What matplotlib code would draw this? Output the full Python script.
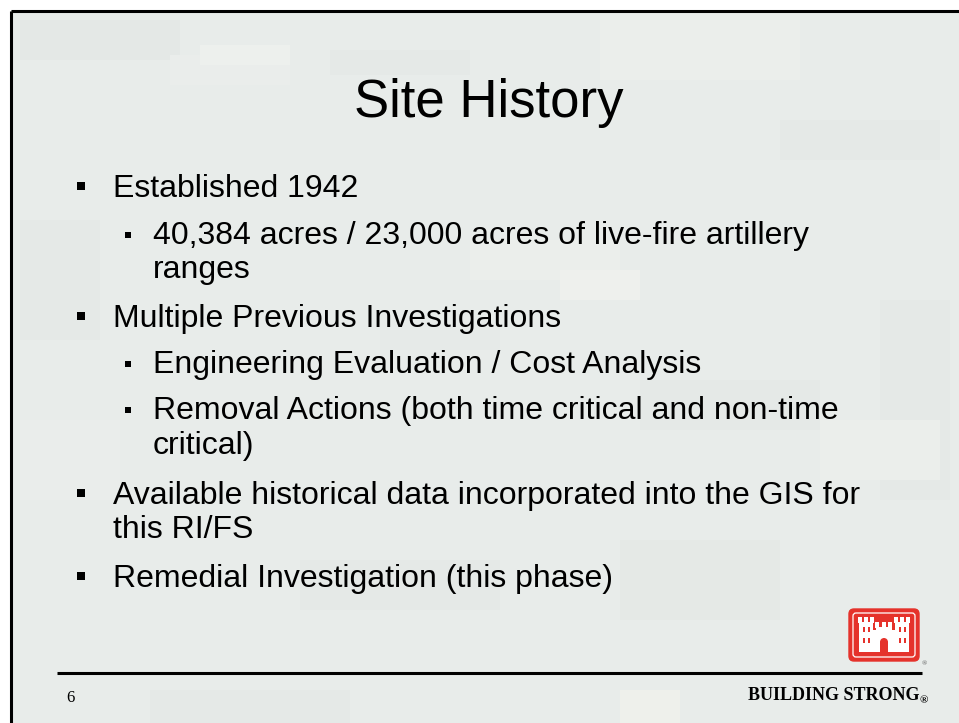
import matplotlib.pyplot as plt
from matplotlib.patches import Rectangle, FancyBboxPatch, Wedge

W, H = 959, 723

title = "Site History"
bullet_levels = [1, 2, 2, 1, 2, 2, 2, 1, 1, 1]
bullet_marks = [True, True, False, True, True, True, False, True, False, True]
bullet_lines = [
    "Established 1942",
    "40,384 acres / 23,000 acres of live-fire artillery",
    "ranges",
    "Multiple Previous Investigations",
    "Engineering Evaluation / Cost Analysis",
    "Removal Actions (both time critical and non-time",
    "critical)",
    "Available historical data incorporated into the GIS for",
    "this RI/FS",
    "Remedial Investigation (this phase)",
]
line_y = [197, 244, 278, 327, 373, 419, 454, 504, 538, 587]
page_no = "6"
footer = "BUILDING STRONG"

# faint camouflage blocks in the background (x, y, w, h, colour)
bg_blocks = [
    (20, 20, 160, 40, "#e4e8e6"), (170, 55, 120, 30, "#eaedeb"),
    (200, 45, 90, 20, "#edf0ed"), (330, 50, 140, 25, "#e5e9e7"),
    (600, 20, 200, 60, "#ebeeeb"), (780, 120, 160, 40, "#e5e9e7"),
    (20, 220, 80, 120, "#e5e9e7"), (470, 240, 150, 40, "#ebeeeb"),
    (560, 270, 80, 30, "#eef0ed"), (640, 380, 180, 50, "#e5e9e7"),
    (20, 420, 100, 80, "#eaedeb"), (300, 560, 200, 50, "#e5e9e7"),
    (620, 540, 160, 80, "#e5e9e6"), (880, 300, 70, 200, "#e5e9e7"),
    (150, 690, 200, 33, "#e5e9e7"), (620, 690, 60, 33, "#eef0eb"),
    (380, 330, 120, 20, "#e6eae8"), (820, 420, 120, 60, "#ebeeeb"),
]

fig = plt.figure(figsize=(W / 100, H / 100), dpi=100)
ax = fig.add_axes([0, 0, 1, 1])
ax.set_xlim(0, W)
ax.set_ylim(H, 0)
ax.axis("off")
fig.patch.set_facecolor("white")

ax.add_patch(Rectangle((11, 11), W, H, facecolor="#e8ecea", edgecolor="none", zorder=0))
for x, y, w, h, c in bg_blocks:
    ax.add_patch(Rectangle((max(x, 12), max(y, 12)), w, h, facecolor=c, edgecolor="none", zorder=0.5))
# frame (only top and left edges fall inside the picture)
ax.plot([11, W + 5], [11, 11], color="black", lw=2.2, solid_capstyle="butt", zorder=1)
ax.plot([11, 11], [11, H + 5], color="black", lw=2.2, solid_capstyle="butt", zorder=1)

sans = "Liberation Sans"
serif = "Liberation Serif"

ax.text(489, 117, title, fontsize=38, family=sans, ha="center", va="baseline", color="black")

for lev, mark, txt, y in zip(bullet_levels, bullet_marks, bullet_lines, line_y):
    if lev == 1:
        tx = 113
        if mark:
            ax.add_patch(Rectangle((77, y - 15), 8, 8, facecolor="black", edgecolor="none"))
    else:
        tx = 153
        if mark:
            ax.add_patch(Rectangle((125, y - 12), 6, 6, facecolor="black", edgecolor="none"))
    ax.text(tx, y, txt, fontsize=23, family=sans, ha="left", va="baseline", color="black")

# footer
ax.plot([57, 922], [673, 673], color="black", lw=2.2, solid_capstyle="butt")
ax.text(66, 702, page_no, fontsize=12, family=serif, ha="left", va="baseline")
ax.text(919, 700, footer, fontsize=13, family=serif, weight="bold", ha="right", va="baseline")
ax.text(920, 703, "\u00ae", fontsize=8, family=serif, weight="bold", ha="left", va="baseline")

# castle logo
red = "#e5322b"
ax.add_patch(FancyBboxPatch((849, 609), 70, 52, boxstyle="round,pad=0,rounding_size=5",
                            facecolor=red, edgecolor=red, lw=1))
ax.add_patch(FancyBboxPatch((853, 613), 62, 44, boxstyle="round,pad=0,rounding_size=3",
                            facecolor="none", edgecolor="white", lw=0.9))
wc = "white"
ax.add_patch(Rectangle((860, 635), 48, 17, facecolor=wc, edgecolor="none"))
for tx0 in (859, 895):
    ax.add_patch(Rectangle((tx0, 622), 14, 30, facecolor=wc, edgecolor="none"))
    for k in range(3):
        ax.add_patch(Rectangle((tx0 - 1 + k * 6, 617), 4, 6, facecolor=wc, edgecolor="none"))
ax.add_patch(Rectangle((876, 627), 16, 25, facecolor=wc, edgecolor="none"))
for k in range(3):
    ax.add_patch(Rectangle((875 + k * 6.5, 622), 4, 6, facecolor=wc, edgecolor="none"))
for k in range(2):
    ax.add_patch(Rectangle((872 + k * 20, 630), 4, 6, facecolor=wc, edgecolor="none"))
for wx in (863, 868, 899, 904):
    ax.add_patch(Rectangle((wx, 627), 1.6, 5, facecolor=red, edgecolor="none"))
    ax.add_patch(Rectangle((wx, 638), 1.6, 5, facecolor=red, edgecolor="none"))
ax.add_patch(Rectangle((880, 642), 8, 10, facecolor=red, edgecolor="none"))
ax.add_patch(Wedge((884, 642), 4, 180, 360, facecolor=red, edgecolor="none"))
ax.text(922, 665, "\u00ae", fontsize=5, family=serif, ha="left", va="baseline", color="#555555")

fig.savefig("out.png", dpi=100, facecolor="white")
